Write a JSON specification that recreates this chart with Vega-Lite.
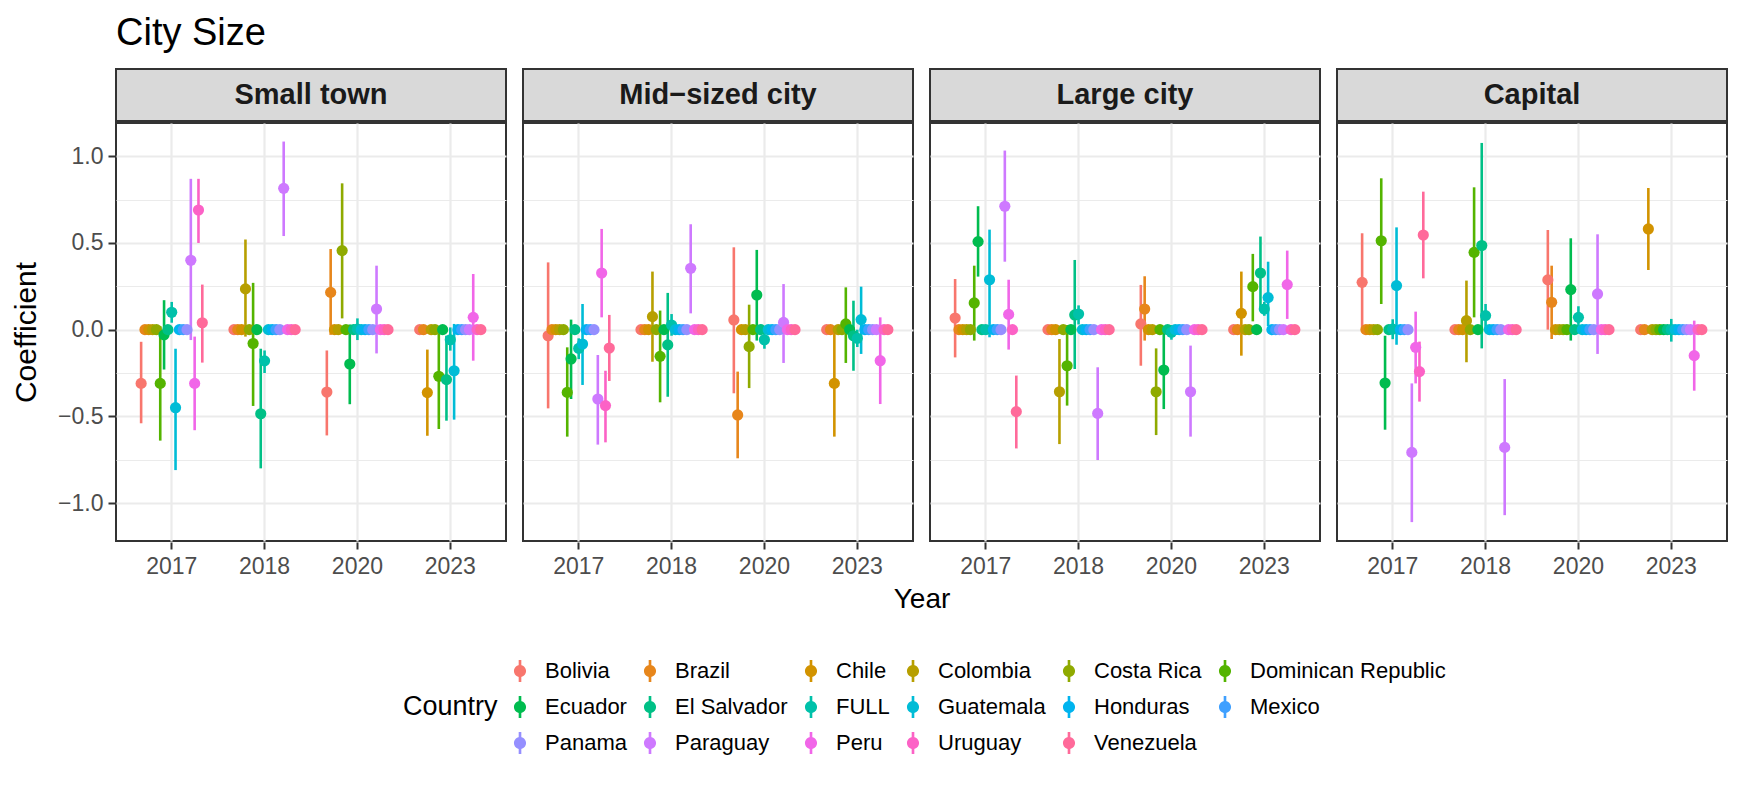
{
"$schema": "https://vega.github.io/schema/vega-lite/v6.json",
"background": "white",
"padding": {"left": 11, "right": 18, "top": 15, "bottom": 5},
"title": {"text": "City Size", "anchor": "start", "frame": "group", "fontSize": 38, "fontWeight": "normal", "color": "#000000", "font": "Liberation Sans", "offset": 15},
"spacing": 0,
"datasets": {
"strips": [{"s": "Small town"}, {"s": "Mid−sized city"}, {"s": "Large city"}, {"s": "Capital"}],
"est": [
{"s":"Small town","yr":"2017","c":"Bolivia","e":-0.31,"l":-0.54,"h":-0.07},
{"s":"Small town","yr":"2017","c":"Brazil","e":0},
{"s":"Small town","yr":"2017","c":"Chile","e":0},
{"s":"Small town","yr":"2017","c":"Colombia","e":0},
{"s":"Small town","yr":"2017","c":"Costa Rica","e":0},
{"s":"Small town","yr":"2017","c":"Dominican Republic","e":-0.31,"l":-0.64,"h":0.02},
{"s":"Small town","yr":"2017","c":"Ecuador","e":-0.03,"l":-0.23,"h":0.17},
{"s":"Small town","yr":"2017","c":"El Salvador","e":0},
{"s":"Small town","yr":"2017","c":"FULL","e":0.10,"l":0.04,"h":0.16},
{"s":"Small town","yr":"2017","c":"Guatemala","e":-0.45,"l":-0.81,"h":-0.11},
{"s":"Small town","yr":"2017","c":"Honduras","e":0},
{"s":"Small town","yr":"2017","c":"Mexico","e":0},
{"s":"Small town","yr":"2017","c":"Panama","e":0},
{"s":"Small town","yr":"2017","c":"Paraguay","e":0.40,"l":-0.06,"h":0.87},
{"s":"Small town","yr":"2017","c":"Peru","e":-0.31,"l":-0.58,"h":-0.04},
{"s":"Small town","yr":"2017","c":"Uruguay","e":0.69,"l":0.50,"h":0.87},
{"s":"Small town","yr":"2017","c":"Venezuela","e":0.04,"l":-0.19,"h":0.26},
{"s":"Small town","yr":"2018","c":"Bolivia","e":0},
{"s":"Small town","yr":"2018","c":"Brazil","e":0},
{"s":"Small town","yr":"2018","c":"Chile","e":0},
{"s":"Small town","yr":"2018","c":"Colombia","e":0.235,"l":-0.04,"h":0.52},
{"s":"Small town","yr":"2018","c":"Costa Rica","e":0},
{"s":"Small town","yr":"2018","c":"Dominican Republic","e":-0.08,"l":-0.44,"h":0.27},
{"s":"Small town","yr":"2018","c":"Ecuador","e":0},
{"s":"Small town","yr":"2018","c":"El Salvador","e":-0.485,"l":-0.80,"h":-0.11},
{"s":"Small town","yr":"2018","c":"FULL","e":-0.18,"l":-0.25,"h":-0.12},
{"s":"Small town","yr":"2018","c":"Guatemala","e":0},
{"s":"Small town","yr":"2018","c":"Honduras","e":0},
{"s":"Small town","yr":"2018","c":"Mexico","e":0},
{"s":"Small town","yr":"2018","c":"Panama","e":0},
{"s":"Small town","yr":"2018","c":"Paraguay","e":0.815,"l":0.54,"h":1.085},
{"s":"Small town","yr":"2018","c":"Peru","e":0},
{"s":"Small town","yr":"2018","c":"Uruguay","e":0},
{"s":"Small town","yr":"2018","c":"Venezuela","e":0},
{"s":"Small town","yr":"2020","c":"Bolivia","e":-0.36,"l":-0.61,"h":-0.12},
{"s":"Small town","yr":"2020","c":"Brazil","e":0.215,"l":-0.03,"h":0.465},
{"s":"Small town","yr":"2020","c":"Chile","e":0},
{"s":"Small town","yr":"2020","c":"Colombia","e":0},
{"s":"Small town","yr":"2020","c":"Costa Rica","e":0.456,"l":0.065,"h":0.844},
{"s":"Small town","yr":"2020","c":"Dominican Republic","e":0},
{"s":"Small town","yr":"2020","c":"Ecuador","e":-0.198,"l":-0.43,"h":0.03},
{"s":"Small town","yr":"2020","c":"El Salvador","e":0},
{"s":"Small town","yr":"2020","c":"FULL","e":0.003,"l":-0.06,"h":0.065},
{"s":"Small town","yr":"2020","c":"Guatemala","e":0},
{"s":"Small town","yr":"2020","c":"Honduras","e":0},
{"s":"Small town","yr":"2020","c":"Mexico","e":0},
{"s":"Small town","yr":"2020","c":"Panama","e":0},
{"s":"Small town","yr":"2020","c":"Paraguay","e":0.119,"l":-0.137,"h":0.369},
{"s":"Small town","yr":"2020","c":"Peru","e":0},
{"s":"Small town","yr":"2020","c":"Uruguay","e":0},
{"s":"Small town","yr":"2020","c":"Venezuela","e":0},
{"s":"Small town","yr":"2023","c":"Bolivia","e":0},
{"s":"Small town","yr":"2023","c":"Brazil","e":0},
{"s":"Small town","yr":"2023","c":"Chile","e":-0.363,"l":-0.612,"h":-0.115},
{"s":"Small town","yr":"2023","c":"Colombia","e":0},
{"s":"Small town","yr":"2023","c":"Costa Rica","e":0},
{"s":"Small town","yr":"2023","c":"Dominican Republic","e":-0.269,"l":-0.573,"h":0.0},
{"s":"Small town","yr":"2023","c":"Ecuador","e":0},
{"s":"Small town","yr":"2023","c":"El Salvador","e":-0.288,"l":-0.525,"h":-0.035},
{"s":"Small town","yr":"2023","c":"FULL","e":-0.058,"l":-0.121,"h":0.013},
{"s":"Small town","yr":"2023","c":"Guatemala","e":-0.237,"l":-0.519,"h":0.033},
{"s":"Small town","yr":"2023","c":"Honduras","e":0},
{"s":"Small town","yr":"2023","c":"Mexico","e":0},
{"s":"Small town","yr":"2023","c":"Panama","e":0},
{"s":"Small town","yr":"2023","c":"Paraguay","e":0},
{"s":"Small town","yr":"2023","c":"Peru","e":0.071,"l":-0.179,"h":0.321},
{"s":"Small town","yr":"2023","c":"Uruguay","e":0},
{"s":"Small town","yr":"2023","c":"Venezuela","e":0},
{"s":"Mid−sized city","yr":"2017","c":"Bolivia","e":-0.035,"l":-0.454,"h":0.388},
{"s":"Mid−sized city","yr":"2017","c":"Brazil","e":0},
{"s":"Mid−sized city","yr":"2017","c":"Chile","e":0},
{"s":"Mid−sized city","yr":"2017","c":"Colombia","e":0},
{"s":"Mid−sized city","yr":"2017","c":"Costa Rica","e":0},
{"s":"Mid−sized city","yr":"2017","c":"Dominican Republic","e":-0.362,"l":-0.617,"h":-0.102},
{"s":"Mid−sized city","yr":"2017","c":"Ecuador","e":-0.169,"l":-0.40,"h":0.058},
{"s":"Mid−sized city","yr":"2017","c":"El Salvador","e":0},
{"s":"Mid−sized city","yr":"2017","c":"FULL","e":-0.108,"l":-0.17,"h":-0.05},
{"s":"Mid−sized city","yr":"2017","c":"Guatemala","e":-0.083,"l":-0.319,"h":0.148},
{"s":"Mid−sized city","yr":"2017","c":"Honduras","e":0},
{"s":"Mid−sized city","yr":"2017","c":"Mexico","e":0},
{"s":"Mid−sized city","yr":"2017","c":"Panama","e":0},
{"s":"Mid−sized city","yr":"2017","c":"Paraguay","e":-0.40,"l":-0.663,"h":-0.146},
{"s":"Mid−sized city","yr":"2017","c":"Peru","e":0.327,"l":0.071,"h":0.581},
{"s":"Mid−sized city","yr":"2017","c":"Uruguay","e":-0.438,"l":-0.65,"h":-0.237},
{"s":"Mid−sized city","yr":"2017","c":"Venezuela","e":-0.106,"l":-0.296,"h":0.085},
{"s":"Mid−sized city","yr":"2018","c":"Bolivia","e":0},
{"s":"Mid−sized city","yr":"2018","c":"Brazil","e":0},
{"s":"Mid−sized city","yr":"2018","c":"Chile","e":0},
{"s":"Mid−sized city","yr":"2018","c":"Colombia","e":0.075,"l":-0.185,"h":0.335},
{"s":"Mid−sized city","yr":"2018","c":"Costa Rica","e":0},
{"s":"Mid−sized city","yr":"2018","c":"Dominican Republic","e":-0.154,"l":-0.419,"h":0.11},
{"s":"Mid−sized city","yr":"2018","c":"Ecuador","e":0},
{"s":"Mid−sized city","yr":"2018","c":"El Salvador","e":-0.088,"l":-0.387,"h":0.212},
{"s":"Mid−sized city","yr":"2018","c":"FULL","e":0.027,"l":-0.035,"h":0.09},
{"s":"Mid−sized city","yr":"2018","c":"Guatemala","e":0},
{"s":"Mid−sized city","yr":"2018","c":"Honduras","e":0},
{"s":"Mid−sized city","yr":"2018","c":"Mexico","e":0},
{"s":"Mid−sized city","yr":"2018","c":"Panama","e":0},
{"s":"Mid−sized city","yr":"2018","c":"Paraguay","e":0.354,"l":0.094,"h":0.608},
{"s":"Mid−sized city","yr":"2018","c":"Peru","e":0},
{"s":"Mid−sized city","yr":"2018","c":"Uruguay","e":0},
{"s":"Mid−sized city","yr":"2018","c":"Venezuela","e":0},
{"s":"Mid−sized city","yr":"2020","c":"Bolivia","e":0.056,"l":-0.367,"h":0.475},
{"s":"Mid−sized city","yr":"2020","c":"Brazil","e":-0.492,"l":-0.742,"h":-0.242},
{"s":"Mid−sized city","yr":"2020","c":"Chile","e":0},
{"s":"Mid−sized city","yr":"2020","c":"Colombia","e":0},
{"s":"Mid−sized city","yr":"2020","c":"Costa Rica","e":-0.098,"l":-0.337,"h":0.144},
{"s":"Mid−sized city","yr":"2020","c":"Dominican Republic","e":0},
{"s":"Mid−sized city","yr":"2020","c":"Ecuador","e":0.20,"l":-0.063,"h":0.46},
{"s":"Mid−sized city","yr":"2020","c":"El Salvador","e":0},
{"s":"Mid−sized city","yr":"2020","c":"FULL","e":-0.058,"l":-0.11,"h":-0.01},
{"s":"Mid−sized city","yr":"2020","c":"Guatemala","e":0},
{"s":"Mid−sized city","yr":"2020","c":"Honduras","e":0},
{"s":"Mid−sized city","yr":"2020","c":"Mexico","e":0},
{"s":"Mid−sized city","yr":"2020","c":"Panama","e":0},
{"s":"Mid−sized city","yr":"2020","c":"Paraguay","e":0.042,"l":-0.192,"h":0.263},
{"s":"Mid−sized city","yr":"2020","c":"Peru","e":0},
{"s":"Mid−sized city","yr":"2020","c":"Uruguay","e":0},
{"s":"Mid−sized city","yr":"2020","c":"Venezuela","e":0},
{"s":"Mid−sized city","yr":"2023","c":"Bolivia","e":0},
{"s":"Mid−sized city","yr":"2023","c":"Brazil","e":0},
{"s":"Mid−sized city","yr":"2023","c":"Chile","e":-0.31,"l":-0.617,"h":-0.003},
{"s":"Mid−sized city","yr":"2023","c":"Colombia","e":0},
{"s":"Mid−sized city","yr":"2023","c":"Costa Rica","e":0},
{"s":"Mid−sized city","yr":"2023","c":"Dominican Republic","e":0.033,"l":-0.192,"h":0.244},
{"s":"Mid−sized city","yr":"2023","c":"Ecuador","e":0},
{"s":"Mid−sized city","yr":"2023","c":"El Salvador","e":-0.035,"l":-0.237,"h":0.167},
{"s":"Mid−sized city","yr":"2023","c":"FULL","e":-0.05,"l":-0.1,"h":0.0},
{"s":"Mid−sized city","yr":"2023","c":"Guatemala","e":0.058,"l":-0.14,"h":0.248},
{"s":"Mid−sized city","yr":"2023","c":"Honduras","e":0},
{"s":"Mid−sized city","yr":"2023","c":"Mexico","e":0},
{"s":"Mid−sized city","yr":"2023","c":"Panama","e":0},
{"s":"Mid−sized city","yr":"2023","c":"Paraguay","e":0},
{"s":"Mid−sized city","yr":"2023","c":"Peru","e":-0.179,"l":-0.429,"h":0.071},
{"s":"Mid−sized city","yr":"2023","c":"Uruguay","e":0},
{"s":"Mid−sized city","yr":"2023","c":"Venezuela","e":0},
{"s":"Large city","yr":"2017","c":"Bolivia","e":0.067,"l":-0.16,"h":0.292},
{"s":"Large city","yr":"2017","c":"Brazil","e":0},
{"s":"Large city","yr":"2017","c":"Chile","e":0},
{"s":"Large city","yr":"2017","c":"Colombia","e":0},
{"s":"Large city","yr":"2017","c":"Costa Rica","e":0},
{"s":"Large city","yr":"2017","c":"Dominican Republic","e":0.154,"l":-0.063,"h":0.369},
{"s":"Large city","yr":"2017","c":"Ecuador","e":0.508,"l":0.306,"h":0.712},
{"s":"Large city","yr":"2017","c":"El Salvador","e":0},
{"s":"Large city","yr":"2017","c":"FULL","e":0},
{"s":"Large city","yr":"2017","c":"Guatemala","e":0.288,"l":-0.044,"h":0.577},
{"s":"Large city","yr":"2017","c":"Honduras","e":0},
{"s":"Large city","yr":"2017","c":"Mexico","e":0},
{"s":"Large city","yr":"2017","c":"Panama","e":0},
{"s":"Large city","yr":"2017","c":"Paraguay","e":0.712,"l":0.392,"h":1.033},
{"s":"Large city","yr":"2017","c":"Peru","e":0.088,"l":-0.115,"h":0.288},
{"s":"Large city","yr":"2017","c":"Uruguay","e":0},
{"s":"Large city","yr":"2017","c":"Venezuela","e":-0.473,"l":-0.685,"h":-0.265},
{"s":"Large city","yr":"2018","c":"Bolivia","e":0},
{"s":"Large city","yr":"2018","c":"Brazil","e":0},
{"s":"Large city","yr":"2018","c":"Chile","e":0},
{"s":"Large city","yr":"2018","c":"Colombia","e":-0.358,"l":-0.66,"h":-0.054},
{"s":"Large city","yr":"2018","c":"Costa Rica","e":0},
{"s":"Large city","yr":"2018","c":"Dominican Republic","e":-0.208,"l":-0.438,"h":0.027},
{"s":"Large city","yr":"2018","c":"Ecuador","e":0},
{"s":"Large city","yr":"2018","c":"El Salvador","e":0.085,"l":-0.227,"h":0.402},
{"s":"Large city","yr":"2018","c":"FULL","e":0.09,"l":0.03,"h":0.14},
{"s":"Large city","yr":"2018","c":"Guatemala","e":0},
{"s":"Large city","yr":"2018","c":"Honduras","e":0},
{"s":"Large city","yr":"2018","c":"Mexico","e":0},
{"s":"Large city","yr":"2018","c":"Panama","e":0},
{"s":"Large city","yr":"2018","c":"Paraguay","e":-0.483,"l":-0.752,"h":-0.217},
{"s":"Large city","yr":"2018","c":"Peru","e":0},
{"s":"Large city","yr":"2018","c":"Uruguay","e":0},
{"s":"Large city","yr":"2018","c":"Venezuela","e":0},
{"s":"Large city","yr":"2020","c":"Bolivia","e":0.033,"l":-0.208,"h":0.258},
{"s":"Large city","yr":"2020","c":"Brazil","e":0.119,"l":-0.063,"h":0.308},
{"s":"Large city","yr":"2020","c":"Chile","e":0},
{"s":"Large city","yr":"2020","c":"Colombia","e":0},
{"s":"Large city","yr":"2020","c":"Costa Rica","e":-0.358,"l":-0.608,"h":-0.108},
{"s":"Large city","yr":"2020","c":"Dominican Republic","e":0},
{"s":"Large city","yr":"2020","c":"Ecuador","e":-0.233,"l":-0.458,"h":0.0},
{"s":"Large city","yr":"2020","c":"El Salvador","e":0},
{"s":"Large city","yr":"2020","c":"FULL","e":-0.015,"l":-0.058,"h":0.027},
{"s":"Large city","yr":"2020","c":"Guatemala","e":0},
{"s":"Large city","yr":"2020","c":"Honduras","e":0},
{"s":"Large city","yr":"2020","c":"Mexico","e":0},
{"s":"Large city","yr":"2020","c":"Panama","e":0},
{"s":"Large city","yr":"2020","c":"Paraguay","e":-0.358,"l":-0.617,"h":-0.092},
{"s":"Large city","yr":"2020","c":"Peru","e":0},
{"s":"Large city","yr":"2020","c":"Uruguay","e":0},
{"s":"Large city","yr":"2020","c":"Venezuela","e":0},
{"s":"Large city","yr":"2023","c":"Bolivia","e":0},
{"s":"Large city","yr":"2023","c":"Brazil","e":0},
{"s":"Large city","yr":"2023","c":"Chile","e":0.094,"l":-0.15,"h":0.335},
{"s":"Large city","yr":"2023","c":"Colombia","e":0},
{"s":"Large city","yr":"2023","c":"Costa Rica","e":0},
{"s":"Large city","yr":"2023","c":"Dominican Republic","e":0.248,"l":0.048,"h":0.437},
{"s":"Large city","yr":"2023","c":"Ecuador","e":0},
{"s":"Large city","yr":"2023","c":"El Salvador","e":0.327,"l":0.12,"h":0.537},
{"s":"Large city","yr":"2023","c":"FULL","e":0.119,"l":0.08,"h":0.16},
{"s":"Large city","yr":"2023","c":"Guatemala","e":0.185,"l":0.02,"h":0.392},
{"s":"Large city","yr":"2023","c":"Honduras","e":0},
{"s":"Large city","yr":"2023","c":"Mexico","e":0},
{"s":"Large city","yr":"2023","c":"Panama","e":0},
{"s":"Large city","yr":"2023","c":"Paraguay","e":0},
{"s":"Large city","yr":"2023","c":"Peru","e":0.26,"l":0.062,"h":0.456},
{"s":"Large city","yr":"2023","c":"Uruguay","e":0},
{"s":"Large city","yr":"2023","c":"Venezuela","e":0},
{"s":"Capital","yr":"2017","c":"Bolivia","e":0.273,"l":-0.005,"h":0.556},
{"s":"Capital","yr":"2017","c":"Brazil","e":0},
{"s":"Capital","yr":"2017","c":"Chile","e":0},
{"s":"Capital","yr":"2017","c":"Colombia","e":0},
{"s":"Capital","yr":"2017","c":"Costa Rica","e":0},
{"s":"Capital","yr":"2017","c":"Dominican Republic","e":0.513,"l":0.148,"h":0.873},
{"s":"Capital","yr":"2017","c":"Ecuador","e":-0.308,"l":-0.577,"h":-0.035},
{"s":"Capital","yr":"2017","c":"El Salvador","e":0},
{"s":"Capital","yr":"2017","c":"FULL","e":0.003,"l":-0.055,"h":0.06},
{"s":"Capital","yr":"2017","c":"Guatemala","e":0.254,"l":-0.087,"h":0.59},
{"s":"Capital","yr":"2017","c":"Honduras","e":0},
{"s":"Capital","yr":"2017","c":"Mexico","e":0},
{"s":"Capital","yr":"2017","c":"Panama","e":0},
{"s":"Capital","yr":"2017","c":"Paraguay","e":-0.708,"l":-1.11,"h":-0.31},
{"s":"Capital","yr":"2017","c":"Peru","e":-0.102,"l":-0.31,"h":0.104},
{"s":"Capital","yr":"2017","c":"Uruguay","e":-0.242,"l":-0.415,"h":-0.069},
{"s":"Capital","yr":"2017","c":"Venezuela","e":0.546,"l":0.296,"h":0.796},
{"s":"Capital","yr":"2018","c":"Bolivia","e":0},
{"s":"Capital","yr":"2018","c":"Brazil","e":0},
{"s":"Capital","yr":"2018","c":"Chile","e":0},
{"s":"Capital","yr":"2018","c":"Colombia","e":0.052,"l":-0.188,"h":0.283},
{"s":"Capital","yr":"2018","c":"Costa Rica","e":0},
{"s":"Capital","yr":"2018","c":"Dominican Republic","e":0.446,"l":0.071,"h":0.821},
{"s":"Capital","yr":"2018","c":"Ecuador","e":0},
{"s":"Capital","yr":"2018","c":"El Salvador","e":0.485,"l":-0.108,"h":1.077},
{"s":"Capital","yr":"2018","c":"FULL","e":0.081,"l":0.004,"h":0.148},
{"s":"Capital","yr":"2018","c":"Guatemala","e":0},
{"s":"Capital","yr":"2018","c":"Honduras","e":0},
{"s":"Capital","yr":"2018","c":"Mexico","e":0},
{"s":"Capital","yr":"2018","c":"Panama","e":0},
{"s":"Capital","yr":"2018","c":"Paraguay","e":-0.679,"l":-1.07,"h":-0.285},
{"s":"Capital","yr":"2018","c":"Peru","e":0},
{"s":"Capital","yr":"2018","c":"Uruguay","e":0},
{"s":"Capital","yr":"2018","c":"Venezuela","e":0},
{"s":"Capital","yr":"2020","c":"Bolivia","e":0.287,"l":0.0,"h":0.575},
{"s":"Capital","yr":"2020","c":"Brazil","e":0.158,"l":-0.054,"h":0.369},
{"s":"Capital","yr":"2020","c":"Chile","e":0},
{"s":"Capital","yr":"2020","c":"Colombia","e":0},
{"s":"Capital","yr":"2020","c":"Costa Rica","e":0},
{"s":"Capital","yr":"2020","c":"Dominican Republic","e":0},
{"s":"Capital","yr":"2020","c":"Ecuador","e":0.231,"l":-0.063,"h":0.527},
{"s":"Capital","yr":"2020","c":"El Salvador","e":0},
{"s":"Capital","yr":"2020","c":"FULL","e":0.071,"l":0.004,"h":0.135},
{"s":"Capital","yr":"2020","c":"Guatemala","e":0},
{"s":"Capital","yr":"2020","c":"Honduras","e":0},
{"s":"Capital","yr":"2020","c":"Mexico","e":0},
{"s":"Capital","yr":"2020","c":"Panama","e":0},
{"s":"Capital","yr":"2020","c":"Paraguay","e":0.206,"l":-0.14,"h":0.55},
{"s":"Capital","yr":"2020","c":"Peru","e":0},
{"s":"Capital","yr":"2020","c":"Uruguay","e":0},
{"s":"Capital","yr":"2020","c":"Venezuela","e":0},
{"s":"Capital","yr":"2023","c":"Bolivia","e":0},
{"s":"Capital","yr":"2023","c":"Brazil","e":0},
{"s":"Capital","yr":"2023","c":"Chile","e":0.581,"l":0.344,"h":0.817},
{"s":"Capital","yr":"2023","c":"Colombia","e":0},
{"s":"Capital","yr":"2023","c":"Costa Rica","e":0},
{"s":"Capital","yr":"2023","c":"Dominican Republic","e":0},
{"s":"Capital","yr":"2023","c":"Ecuador","e":0},
{"s":"Capital","yr":"2023","c":"El Salvador","e":0},
{"s":"Capital","yr":"2023","c":"FULL","e":0.0,"l":-0.069,"h":0.062},
{"s":"Capital","yr":"2023","c":"Guatemala","e":0},
{"s":"Capital","yr":"2023","c":"Honduras","e":0},
{"s":"Capital","yr":"2023","c":"Mexico","e":0},
{"s":"Capital","yr":"2023","c":"Panama","e":0},
{"s":"Capital","yr":"2023","c":"Paraguay","e":0},
{"s":"Capital","yr":"2023","c":"Peru","e":-0.15,"l":-0.352,"h":0.052},
{"s":"Capital","yr":"2023","c":"Uruguay","e":0},
{"s":"Capital","yr":"2023","c":"Venezuela","e":0}
]
},
"vconcat": [
{
"data": {"name": "strips"},
"facet": {"column": {"field": "s", "type": "nominal", "sort": ["Small town", "Mid−sized city", "Large city", "Capital"], "header": {"labels": false, "title": null, "labelPadding": 0, "titlePadding": 0}}},
"spacing": 15,
"spec": {
"width": 390,
"height": 52,
"view": {"fill": "#D9D9D9", "stroke": "#333333", "strokeWidth": 2},
"mark": {"type": "text", "fontSize": 29, "fontWeight": "bold", "color": "#1A1A1A", "font": "Liberation Sans", "baseline": "middle", "align": "center"},
"encoding": {
"text": {"field": "s", "type": "nominal"},
"y": {"datum": 0, "type": "quantitative", "scale": {"domain": [-1, 1]}, "axis": {"values": [0], "labelExpr": "'−1.0'", "labelOpacity": 0, "tickOpacity": 0, "grid": false, "title": " ", "titleFontSize": 30, "titleOpacity": 0, "titlePadding": 16}}
}
}
},
{
"data": {"name": "est"},
"facet": {"column": {"field": "s", "type": "nominal", "title": "Year", "sort": ["Small town", "Mid−sized city", "Large city", "Capital"], "header": {"labels": false, "labelPadding": 0, "titleOrient": "bottom", "titleFontSize": 28, "titleFontWeight": "normal", "titleColor": "#000000", "titleFont": "Liberation Sans", "titlePadding": -2}}},
"spacing": 15,
"spec": {
"width": 390,
"height": 418,
"encoding": {
"x": {"field": "yr", "type": "nominal", "scale": {"domain": ["2017", "2018", "2020", "2023"], "paddingInner": 0.3, "paddingOuter": 0.25}, "axis": {"title": null, "labelAngle": 0, "bandPosition": 0.5, "grid": true, "gridWidth": 2.2, "labelPadding": 6}},
"xOffset": {"field": "c", "type": "nominal", "scale": {"domain": ["Bolivia","Brazil","Chile","Colombia","Costa Rica","Dominican Republic","Ecuador","El Salvador","FULL","Guatemala","Honduras","Mexico","Panama","Paraguay","Peru","Uruguay","Venezuela"], "paddingInner": 0, "paddingOuter": 0}}
},
"layer": [
{
"transform": [{"filter": "isValid(datum.l)"}],
"mark": {"type": "rule", "strokeWidth": 2.6},
"encoding": {
"y": {"field": "l", "type": "quantitative", "title": "Coefficient", "scale": {"domain": [-1.219, 1.192], "nice": false, "zero": false},
"axis": {"values": [-1, -0.75, -0.5, -0.25, 0, 0.25, 0.5, 0.75, 1], "labelExpr": "abs(datum.value*2 - round(datum.value*2)) > 0.01 ? '' : format(datum.value, '.1f')", "gridWidth": {"condition": {"test": "abs(datum.value*2 - round(datum.value*2)) > 0.01", "value": 1.1}, "value": 2.2}, "tickOpacity": {"condition": {"test": "abs(datum.value*2 - round(datum.value*2)) > 0.01", "value": 0}, "value": 1}, "titlePadding": 16, "titleFontSize": 30}},
"y2": {"field": "h"},
"stroke": {"field": "c", "type": "nominal", "legend": null,
"scale": {"domain": ["Venezuela","Uruguay","Peru","Paraguay","Panama","Mexico","Honduras","Guatemala","FULL","El Salvador","Ecuador","Dominican Republic","Costa Rica","Colombia","Chile","Brazil","Bolivia"],
"range": ["#FF6A9A","#FC62C6","#F166E8","#CE79FF","#958FFF","#3FA0FF","#00B4EF","#00BCD6","#00C1AA","#00C086","#00BC4F","#54B400","#8FAA00","#B79F00","#D29300","#E7861B","#F8766D"]}}
}
},
{
"mark": {"type": "point", "filled": true, "size": 125, "opacity": 1, "strokeWidth": 0},
"encoding": {
"y": {"field": "e", "type": "quantitative", "title": "Coefficient"},
"color": {"field": "c", "type": "nominal",
"scale": {"domain": ["Bolivia","Brazil","Chile","Colombia","Costa Rica","Dominican Republic","Ecuador","El Salvador","FULL","Guatemala","Honduras","Mexico","Panama","Paraguay","Peru","Uruguay","Venezuela"],
"range": ["#F8766D","#E7861B","#D29300","#B79F00","#8FAA00","#54B400","#00BC4F","#00C086","#00C1AA","#00BCD6","#00B4EF","#3FA0FF","#958FFF","#CE79FF","#F166E8","#FC62C6","#FF6A9A"]},
"legend": {"title": "Country", "orient": "none", "legendX": 287, "legendY": 591, "direction": "horizontal", "columns": 6, "titleOrient": "left", "titleAnchor": "middle", "titleBaseline": "middle", "titlePadding": 11, "titleFontSize": 27, "titleFontWeight": "normal", "titleColor": "#000000", "labelFontSize": 22, "labelColor": "#000000", "labelOffset": 14, "labelLimit": 400, "symbolType": "M-0.12,-1H0.12V1H-0.12Z M0.55,0A0.55,0.55,0,1,1,-0.55,0A0.55,0.55,0,1,1,0.55,0Z", "symbolSize": 484, "symbolStrokeWidth": 0, "symbolOpacity": 1, "columnPadding": 12, "rowPadding": 14}
}
}
},
{
"mark": {"type": "rule", "strokeDash": [9, 7], "strokeWidth": 2.2, "color": "#555555"},
"encoding": {"y": {"datum": 0, "type": "quantitative", "title": "Coefficient"}}
}
]
}
}
],
"config": {
"font": "Liberation Sans",
"view": {"stroke": "#333333", "strokeWidth": 2, "fill": "white"},
"axis": {"domain": false, "tickColor": "#333333", "tickWidth": 2, "tickSize": 7, "labelColor": "#4D4D4D", "labelFontSize": 23, "labelFont": "Liberation Sans", "labelPadding": 5, "titleFont": "Liberation Sans", "titleFontSize": 29, "titleFontWeight": "normal", "titleColor": "#000000", "gridColor": "#EBEBEB", "gridWidth": 2.2},
"legend": {"labelFont": "Liberation Sans", "titleFont": "Liberation Sans"}
}
}
